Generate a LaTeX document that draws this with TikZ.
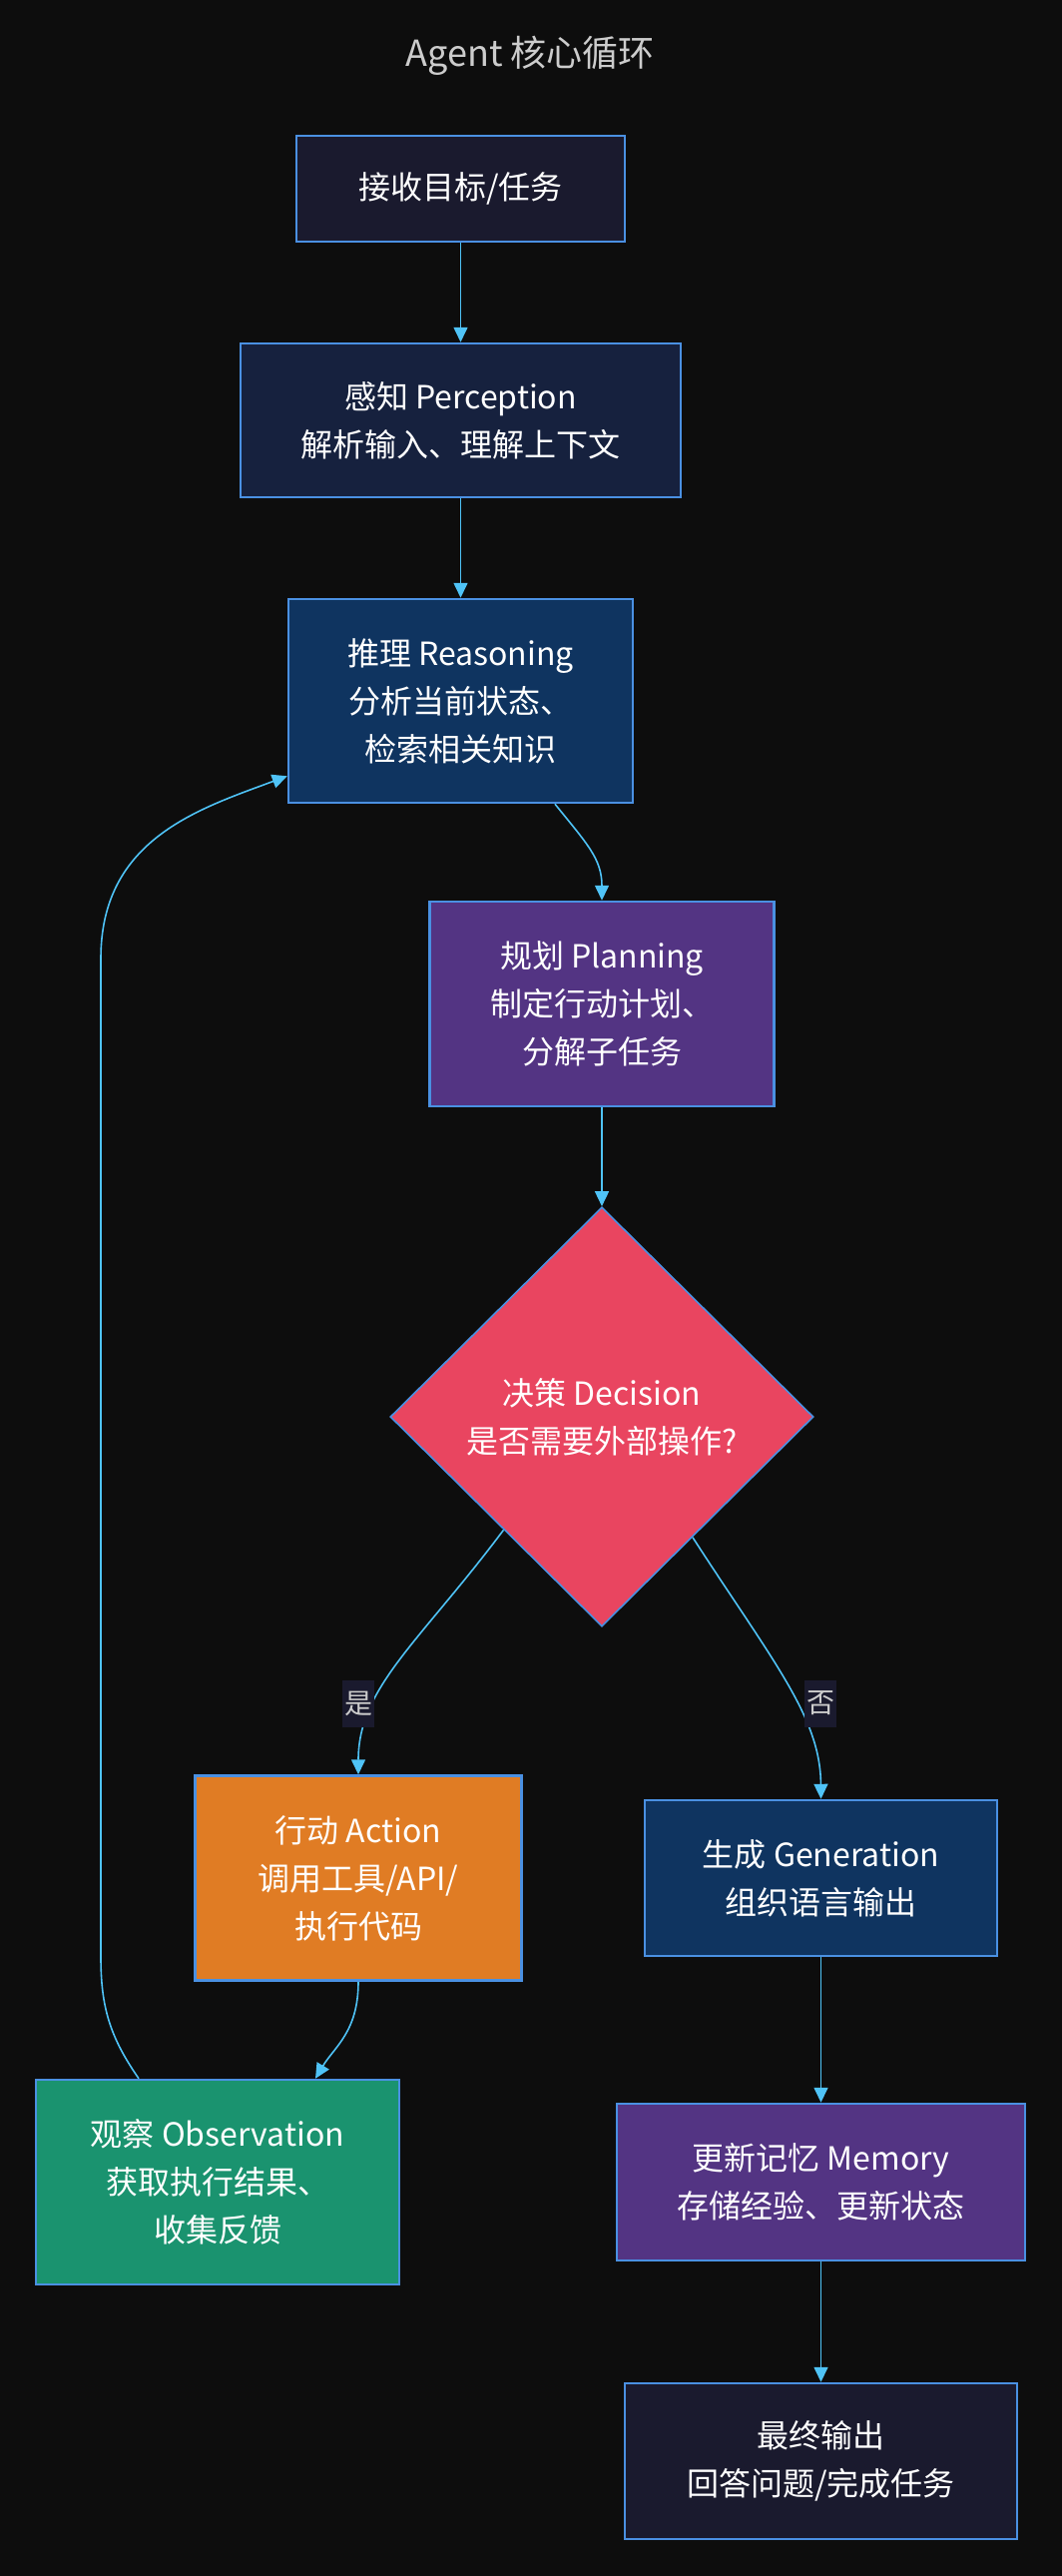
\documentclass[tikz,border=0pt]{standalone}
\usepackage{fontspec}
\setmainfont{Noto Sans CJK SC}
\usetikzlibrary{shapes.geometric,arrows.meta}
\definecolor{bgcol}{HTML}{0D0D0D}
\definecolor{bordercol}{HTML}{4A90E2}
\definecolor{linecol}{HTML}{4FC3F7}
\definecolor{titlecol}{HTML}{CCCCCC}
\definecolor{goalfill}{HTML}{1A1A2E}
\definecolor{percfill}{HTML}{16213E}
\definecolor{reasonfill}{HTML}{0F3460}
\definecolor{planfill}{HTML}{533483}
\definecolor{decfill}{HTML}{E94560}
\definecolor{actfill}{HTML}{E07C24}
\definecolor{obsfill}{HTML}{1A936F}
\tikzset{
  box/.style={draw=bordercol, line width=2.5pt, align=center, text=white, inner sep=0pt,
    font=\fontsize{32}{48}\selectfont},
  flow/.style={draw=linecol, line width=1.6pt, -{Triangle[length=15pt,width=14pt]}},
  lbl/.style={fill=goalfill, text=titlecol, inner xsep=2pt, inner ysep=0pt, minimum height=47pt,
    font=\fontsize{28}{34}\selectfont}
}
\begin{document}
\begin{tikzpicture}[x=1pt,y=-1pt]
\fill[bgcol] (0,0) rectangle (1064,2580);
\useasboundingbox (0,0) rectangle (1064,2580);
\node[text=titlecol, font=\fontsize{36}{40}\selectfont] (title) at (531,56) {Agent 核心循环};
\node[box, fill=goalfill, minimum width=329pt, minimum height=106pt] (goal) at (461.5,189) {接收目标/任务};
\node[box, fill=percfill, minimum width=441pt, minimum height=154pt] (perc) at (461.5,421) {感知 Perception\\解析输入、理解上下文};
\node[box, fill=reasonfill, minimum width=345pt, minimum height=204pt] (reason) at (461.5,702) {推理 Reasoning\\分析当前状态、\\检索相关知识};
\node[box, fill=planfill, minimum width=345pt, minimum height=205pt] (plan) at (603,1005.5) {规划 Planning\\制定行动计划、\\分解子任务};
\node[box, diamond, fill=decfill, line width=1.6pt, minimum width=424pt, minimum height=420pt] (dec) at (603,1419) {决策 Decision\\是否需要外部操作?};
\node[box, fill=actfill, minimum width=327pt, minimum height=205pt] (act) at (359,1881) {行动 Action\\调用工具/API/\\执行代码};
\node[box, fill=reasonfill, minimum width=353pt, minimum height=156pt] (gen) at (822.5,1881) {生成 Generation\\组织语言输出};
\node[box, fill=obsfill, minimum width=364pt, minimum height=205pt] (obs) at (218,2185.5) {观察 Observation\\获取执行结果、\\收集反馈};
\node[box, fill=planfill, minimum width=409pt, minimum height=157pt] (mem) at (822.5,2185.5) {更新记忆 Memory\\存储经验、更新状态};
\node[box, fill=goalfill, minimum width=393pt, minimum height=156pt] (final) at (822.5,2465) {最终输出\\回答问题/完成任务};
\draw[flow] (goal) -- (perc);
\draw[flow] (perc) -- (reason);
\draw[flow] ([xshift=94.5pt]reason.south) .. controls (588,845) and (603,860) .. (plan.north);
\draw[flow] (plan) -- (dec);
\draw[flow] (dec.-131) .. controls (420,1645) and (359,1690) .. (act.north);
\draw[flow] (dec.-53) .. controls (775,1665) and (822,1720) .. (gen.north);
\draw[flow] (act.south) .. controls (359,2035) and (335,2050) .. ([xshift=98pt]obs.north);
\draw[flow] ([xshift=-79pt]obs.north) .. controls (110,2040) and (101,2010) .. (101,1960) -- (101,960) .. controls (101,840) and (200,810) .. ([yshift=28pt]reason.south west);
\draw[flow] (gen) -- (mem);
\draw[flow] (mem) -- (final);
\node[lbl] (yes) at (359,1706) {是};
\node[lbl] (no) at (822,1706) {否};
\end{tikzpicture}
\end{document}
